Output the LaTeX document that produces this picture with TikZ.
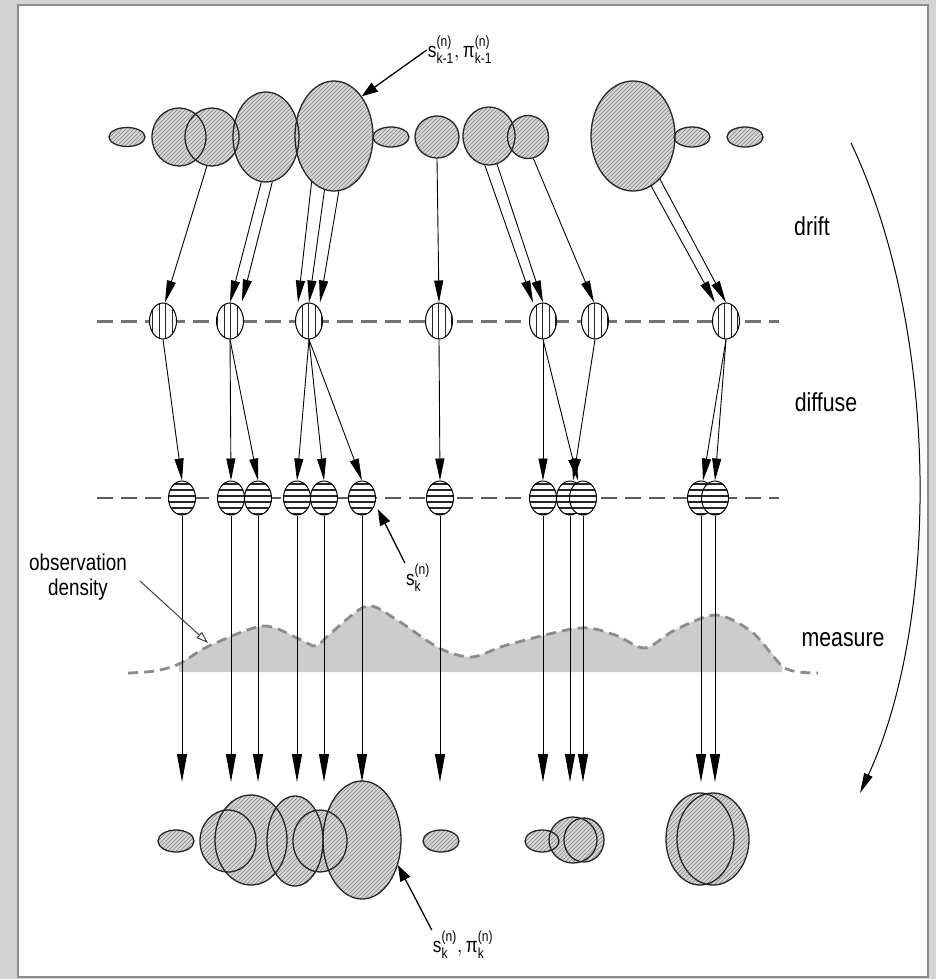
\documentclass[tikz,border=0pt]{standalone}
\usepackage{amsmath}
\usepackage{fontspec}
\setmainfont{Liberation Sans}[FakeStretch=0.82]
\usetikzlibrary{shapes.geometric,arrows.meta,patterns}
\pgfdeclarepatternformonly{hatchne}{\pgfqpoint{-1pt}{-1pt}}{\pgfqpoint{5pt}{5pt}}{\pgfqpoint{4pt}{4pt}}{%
  \pgfsetlinewidth{0.6pt}\pgfpathmoveto{\pgfqpoint{0pt}{0pt}}\pgfpathlineto{\pgfqpoint{4.1pt}{4.1pt}}\pgfusepath{stroke}}
\pgfdeclarepatternformonly{vstripes}{\pgfqpoint{0pt}{-1pt}}{\pgfqpoint{6.5pt}{2pt}}{\pgfqpoint{6.5pt}{1pt}}{%
  \pgfsetlinewidth{1.1pt}\pgfpathmoveto{\pgfqpoint{3.25pt}{-1pt}}\pgfpathlineto{\pgfqpoint{3.25pt}{2pt}}\pgfusepath{stroke}}
\pgfdeclarepatternformonly{hstripes}{\pgfqpoint{-1pt}{0pt}}{\pgfqpoint{2pt}{6pt}}{\pgfqpoint{1pt}{6pt}}{%
  \pgfsetlinewidth{1.1pt}\pgfpathmoveto{\pgfqpoint{-1pt}{3pt}}\pgfpathlineto{\pgfqpoint{2pt}{3pt}}\pgfusepath{stroke}}
\def\toplist{t1/127/137/18/9.5, tA/179/137/27/29, tB/212/137/27/29, tC/266/137/33/45, tD/334/136/39/55, t6/391/137/18/10, tE/437/137/22/21, tF/489/136/26/29, tG/528/137/20.5/21.5, tH/633/136/42/55, t11/692/137/18/10, t12/745/137/18/10}
\def\botlist{b0/176/841/18/11, b1/228/841/28/31, b2/251/840/36/45, b3/295/841/28/45, b4/320/841/27/31, b5/362/840/39/59, b6/441/841/18/11, b7/542/841/17/11, b8/573/840/24/23, b9/584/840/20/22, b10/700/839/34/46, b11/713/839/36/46}
\begin{document}
\begin{tikzpicture}[x=1pt,y=-1pt,
  blob/.style={ellipse, draw=black!85, line width=1.3pt, inner sep=0pt},
  hatchfill/.style={preaction={fill=black!16}, pattern=hatchne, pattern color=black!48},
  drnode/.style={ellipse, draw=black, line width=1pt, inner sep=0pt, minimum width=27pt, minimum height=36pt, preaction={fill=white}, pattern=vstripes, pattern color=black!85},
  dfnode/.style={ellipse, draw=black, line width=1pt, inner sep=0pt, minimum width=27pt, minimum height=34pt, preaction={fill=white}, pattern=hstripes, pattern color=black!85},
  arr/.style={-{Triangle[length=22pt,width=9pt]}, line width=0.9pt},
  arrlong/.style={-{Triangle[length=28pt,width=10pt]}, line width=0.9pt},
  lblarr/.style={-{Triangle[length=16pt,width=11pt]}, line width=1.3pt},
  baseline/.style={draw=black!55, line width=3pt, dash pattern=on 16pt off 8pt},
  lbl/.style={font=\fontsize{26}{28}\selectfont},
  smalllbl/.style={font=\fontsize{23}{25}\selectfont, align=center, inner sep=1pt},
  mathlbl/.style={font=\fontsize{21}{23}\selectfont, inner sep=1pt}]
\useasboundingbox (0,0) rectangle (936,979);
% frame
\fill[black!17] (0,0) rectangle (936,979);
\draw[fill=white, draw=black!45, line width=1.5pt] (18,5) rectangle (928,977);
% observation density
\fill[black!20] plot[smooth] coordinates {(179,664) (209,646) (263,626) (299,639) (316,646) (331,633) (367,606) (397,620) (439,648) (472,657) (507,645) (579,628) (615,635) (645,648) (675,630) (716,615) (752,632) (782,666)} -- (782,672) -- (179,672) -- cycle;
\draw[black!45, line width=2.8pt, dash pattern=on 10pt off 6pt] plot[smooth] coordinates {(128,673) (155,671) (179,664) (209,646) (263,626) (299,639) (316,646) (331,633) (367,606) (397,620) (439,648) (472,657) (507,645) (579,628) (615,635) (645,648) (675,630) (716,615) (752,632) (782,666) (800,672) (818,673)};
% horizontal dashed lines
\draw[baseline] (97,321) -- (779,321);
\draw[baseline, draw=black!65, line width=2.4pt] (97,498) -- (779,498);
% top particles
\foreach \n/\x/\y/\a/\b in \toplist {\fill[hatchfill] (\x,\y) ellipse [x radius=\a, y radius=\b];}
\foreach \n/\x/\y/\a/\b in \toplist {\node[blob, minimum width=2*\a*1pt, minimum height=2*\b*1pt] (\n) at (\x,\y) {};}
% bottom particles
\foreach \n/\x/\y/\a/\b in \botlist {\fill[hatchfill] (\x,\y) ellipse [x radius=\a, y radius=\b];}
\foreach \n/\x/\y/\a/\b in \botlist {\node[blob, minimum width=2*\a*1pt, minimum height=2*\b*1pt] (\n) at (\x,\y) {};}
% drift nodes
\foreach \n/\x in {dr1/163, dr2/230, dr3/309, dr4/439, dr5/543, dr6/595, dr7/726} {\node[drnode] (\n) at (\x,321) {};}
% diffuse nodes
\foreach \n/\x in {d1/182, d2/231, d3/258, d4/297, d5/324, d6/362, d7/440, d8/543, d9/570, d10/583, d11/701, d12/715} {\node[dfnode] (\n) at (\x,498) {};}
% drift arrows
\draw[arr] (tB.-100) -- ([xshift=2pt]dr1.north);
\draw[arr] (tC.-96) -- (dr2.north);
\draw[arr] (tC.-82) -- ([xshift=12pt,yshift=1pt]dr2.north);
\draw[arr] (tD.-116) -- ([xshift=-11pt]dr3.north);
\draw[arr] (tD.-100) -- (dr3.north);
\draw[arr] (tD.-85) -- ([xshift=11pt]dr3.north);
\draw[arr] (tE.south) -- (dr4.north);
\draw[arr] (tF.-98) -- ([xshift=-10pt]dr5.north);
\draw[arr] (tF.-74) -- (dr5.north);
\draw[arr] (tG.-76) -- ([xshift=-1pt]dr6.north);
\draw[arr] (tH.-70) -- ([xshift=-11pt]dr7.north);
\draw[arr] (tH.-58) -- (dr7.north);
% diffuse arrows
\draw[arr] (dr1.south) -- (d1.north);
\draw[arr] (dr2.south) -- (d2.north);
\draw[arr] (dr2.south) -- (d3.north);
\draw[arr] (dr3.south) -- (d4.north);
\draw[arr] (dr3.south) -- (d5.north);
\draw[arr] (dr3.south) -- (d6.north);
\draw[arr] (dr4.south) -- (d7.north);
\draw[arr] (dr5.south) -- (d8.north);
\draw[arr] (dr5.south) -- ([xshift=-5pt]d10.north);
\draw[arr] (dr6.south) -- ([xshift=3pt]d9.north);
\draw[arr] (dr7.south) -- ([xshift=2pt]d11.north);
\draw[arr] (dr7.south) -- (d12.north);
% measure arrows
\coordinate (bl) at (0,782);
\foreach \n in {d1,d2,d3,d4,d5,d6,d7,d8,d9,d10,d11,d12} {\draw[arrlong] (\n.south) -- (\n.south |- bl);}
% labels
\node[mathlbl] (lbltop) at (460,50) {$\text{s}^{\text{(n)}}_{\text{k-1}},\text{π}^{\text{(n)}}_{\text{k-1}}$};
\draw[lblarr] (lbltop.west) -- (tD.55);
\node[mathlbl] (lblsk) at (418,578) {$\text{s}^{\text{(n)}}_{\text{k}}$};
\draw[lblarr] (lblsk.north west) -- ([xshift=6pt,yshift=1pt]d6.south east);
\node[mathlbl] (lblbot) at (463,945) {$\text{s}^{\text{(n)}}_{\text{k}},\text{π}^{\text{(n)}}_{\text{k}}$};
\draw[lblarr] (lblbot.north west) -- (b5.-35);
\node[lbl] (drift) at (812,226) {drift};
\node[lbl] (diffuse) at (826,402) {diffuse};
\node[lbl] (measure) at (843,640) {measure};
\node[smalllbl] (obs) at (78,577) {observation\\density};
\coordinate (obstip) at (208,643);
\draw[-{Triangle[open,length=12pt,width=8pt]}, line width=1pt, black!75] ([xshift=12pt,yshift=-4pt]obs.east) -- (obstip);
% cycle arrow
\coordinate (cs) at (851,143);
\coordinate (ce) at (860,793);
\draw[-{Triangle[length=20pt,width=9pt]}, line width=1pt] (cs) .. controls (940,330) and (940,620) .. (ce);
\end{tikzpicture}
\end{document}
